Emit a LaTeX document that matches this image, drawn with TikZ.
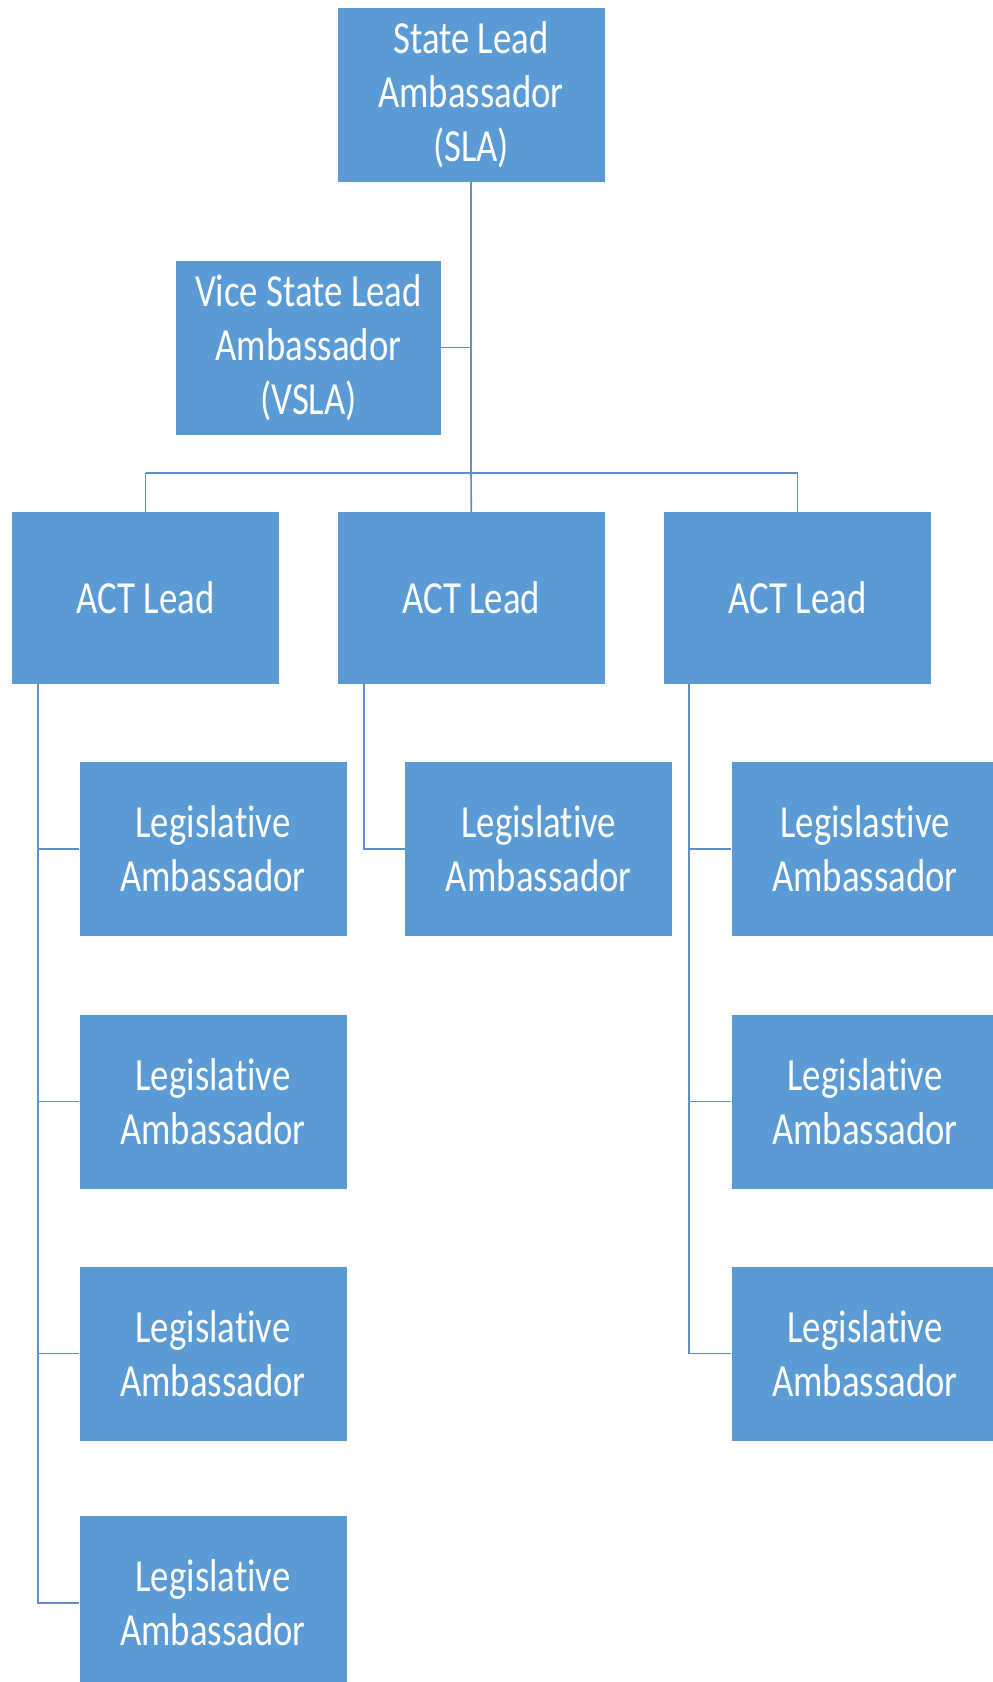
\documentclass[tikz,border=0pt]{standalone}
\usepackage{fontspec}
\setmainfont{Carlito}[FakeStretch=0.8, Ligatures=NoCommon]
\definecolor{boxblue}{HTML}{5B9BD5}
\definecolor{linkblue}{HTML}{5F8FC4}
\begin{document}
\begin{tikzpicture}[x=1pt,y=-1pt,
  orgbox/.style={rectangle, fill=boxblue, draw=none, text=white, align=center,
    minimum width=267pt, minimum height=174pt, inner sep=0pt,
    font=\fontsize{46}{54}\selectfont},
  link/.style={draw=linkblue, line width=1.6pt}]
\useasboundingbox (0,0) rectangle (993,1682);
\fill[white] (0,0) rectangle (993,1682);

\node[orgbox] (sla) at (471,95) {State Lead\\Ambassador\\(SLA)};
\node[orgbox, minimum width=265pt] (vsla) at (308.5,347.5) {Vice State Lead\\Ambassador\\(VSLA)};

\node[orgbox, minimum height=172pt] (act1) at (145.6,598) {ACT Lead};
\node[orgbox, minimum height=172pt] (act2) at (471.3,598) {ACT Lead};
\node[orgbox, minimum height=172pt] (act3) at (797.6,598) {ACT Lead};

\node[orgbox] (l11) at (213,849) {Legislative\\Ambassador};
\node[orgbox] (l12) at (213,1101.5) {Legislative\\Ambassador};
\node[orgbox] (l13) at (213,1353.5) {Legislative\\Ambassador};
\node[orgbox] (l14) at (213,1603) {Legislative\\Ambassador};

\node[orgbox] (l21) at (538.8,849) {Legislative\\Ambassador};

\node[orgbox] (l31) at (865,849) {Legislastive\\Ambassador};
\node[orgbox] (l32) at (865,1101.5) {Legislative\\Ambassador};
\node[orgbox] (l33) at (865,1353.5) {Legislative\\Ambassador};

\coordinate (bar) at (471,472.7);
\coordinate (barL) at (145.6,472.7);
\coordinate (barR) at (797.6,472.7);

% top level
\draw[link] (sla.south) -- (bar);
\draw[link] (vsla.east) -- (vsla.east -| sla.south);
\draw[link] (barL) -- (barR);
\draw[link] (barL) -- (act1.north);
\draw[link] (bar) -- (act2.north);
\draw[link] (barR) -- (act3.north);

% column 1
\coordinate (c1) at (38,684);
\draw[link] (c1) -- (c1 |- l14.west) -- (l14.west);
\draw[link] (c1 |- l11.west) -- (l11.west);
\draw[link] (c1 |- l12.west) -- (l12.west);
\draw[link] (c1 |- l13.west) -- (l13.west);

% column 2
\coordinate (c2) at (364,684);
\draw[link] (c2) -- (c2 |- l21.west) -- (l21.west);

% column 3
\coordinate (c3) at (689,684);
\draw[link] (c3) -- (c3 |- l33.west) -- (l33.west);
\draw[link] (c3 |- l31.west) -- (l31.west);
\draw[link] (c3 |- l32.west) -- (l32.west);
\end{tikzpicture}
\end{document}
